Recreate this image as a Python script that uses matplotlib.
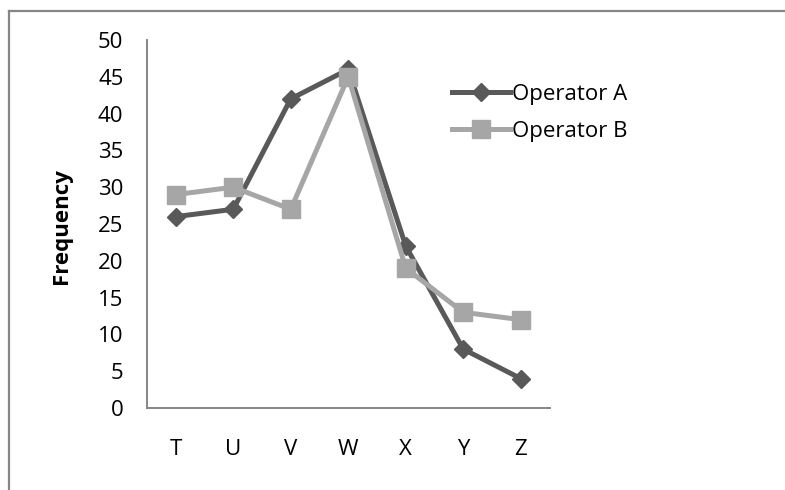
import matplotlib
matplotlib.use("Agg")
import matplotlib.pyplot as plt
from matplotlib.lines import Line2D

categories = ["T", "U", "V", "W", "X", "Y", "Z"]
operator_a = [26, 27, 42, 46, 22, 8, 4]
operator_b = [29, 30, 27, 45, 19, 13, 12]
y_ticks = [0, 5, 10, 15, 20, 25, 30, 35, 40, 45, 50]

COL_A = "#595959"
COL_B = "#A6A6A6"
AXIS = "#868686"
FS = 16
LW = 3.6

plt.rcParams["font.family"] = ["Open Sans", "DejaVu Sans"]

fig = plt.figure(figsize=(7.85, 4.9), dpi=100)
ax = fig.add_axes([147 / 785, 82 / 490, 402.5 / 785, 368 / 490])

style_a = dict(color=COL_A, lw=LW, marker="D", ms=9.5, mfc=COL_A, mec=COL_A)
style_b = dict(color=COL_B, lw=LW, marker="s", ms=13.5, mfc=COL_B, mec=COL_B)

x = list(range(len(categories)))
ax.plot(x, operator_a, label="Operator A", zorder=3, **style_a)
ax.plot(x, operator_b, label="Operator B", zorder=4, **style_b)

ax.set_xlim(-0.5, len(categories) - 0.5)
ax.set_ylim(0, 50)
ax.set_xticks(x)
ax.set_xticklabels(categories)
ax.set_yticks(y_ticks)
ax.tick_params(length=0, labelsize=FS, colors="black")
ax.tick_params(axis="y", pad=17)
ax.tick_params(axis="x", pad=22)
for side in ("top", "right"):
    ax.spines[side].set_visible(False)
for side in ("left", "bottom"):
    ax.spines[side].set_color(AXIS)
    ax.spines[side].set_linewidth(1.4)

fig.text(62 / 785, 1 - 226 / 490, "Frequency", rotation=90, ha="center",
         va="center", fontsize=FS, fontweight="bold")

handles = [Line2D([], [], **style_a), Line2D([], [], **style_b)]
fig.legend(handles, ["Operator A", "Operator B"], loc="upper left",
           bbox_to_anchor=(452 / 785, 1 - 84 / 490), frameon=False,
           fontsize=FS, handlelength=2.6, handletextpad=0.1,
           labelspacing=0.7, borderaxespad=0, borderpad=0)

# outer frame: top and left edges only
fig.add_artist(Line2D([9 / 785, 1.0], [1 - 11 / 490, 1 - 11 / 490],
                      transform=fig.transFigure, color=AXIS, lw=1.6))
fig.add_artist(Line2D([9 / 785, 9 / 785], [0.0, 1 - 11 / 490],
                      transform=fig.transFigure, color=AXIS, lw=1.6))

fig.savefig("out.png", dpi=100, facecolor="white")
